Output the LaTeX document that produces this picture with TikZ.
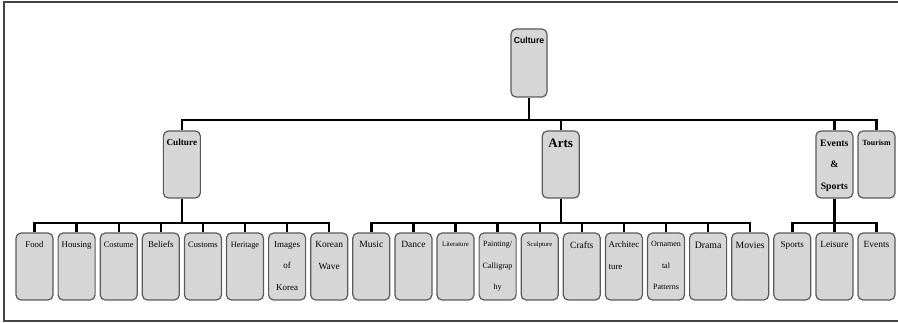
\documentclass[tikz,border=0pt]{standalone}
\usepackage{fontspec}
\setmainfont{Liberation Serif}
\newfontfamily\headsans{Liberation Sans}
\definecolor{boxfill}{HTML}{D6D6D6}
\definecolor{boxline}{HTML}{5A5A5A}
\definecolor{framecol}{HTML}{444444}
\newcommand\mkbox[6]{%
  \node[box] (#1) at (#2,#3) {};
  \node[lbl, font=\fontsize{#4}{21.5}\selectfont#5] (#1t) at ([yshift=-9pt]#1.north) {#6};
}
\begin{document}
\begin{tikzpicture}[x=1pt,y=-1pt,
  box/.style={draw=boxline, fill=boxfill, line width=1.2pt, rounded corners=5pt,
    minimum width=37pt, minimum height=67pt, inner sep=0pt},
  lbl/.style={anchor=north, inner sep=0pt, align=center},
  conn/.style={line width=2.4pt, black, line join=miter},
  frameline/.style={draw=framecol, line width=1.3pt}]
\useasboundingbox (0,0) rectangle (898,323);
\draw[frameline] (4,2) rectangle (902,321);
% top
\node[box, minimum width=36pt, minimum height=68pt] (top) at (529,63) {};
\node[lbl, font=\headsans\bfseries\fontsize{8.7}{12}\selectfont] (topt) at ([yshift=-9pt]top.north) {Culture};
% level 2
\mkbox{cult}{181.85}{164.5}{9.2}{\bfseries}{Culture}
\node[box] (arts) at (560.75,164.5) {};
\node[lbl, font=\bfseries\fontsize{13}{16}\selectfont] (artst) at ([yshift=-8pt]arts.north) {Arts};
\mkbox{evsp}{834.4}{164.5}{9.8}{\bfseries}{Events\\\&\\Sports}
\mkbox{tour}{876.5}{164.5}{7.9}{\bfseries}{Tourism}
% level 3
\mkbox{food}{34.5}{266.5}{8.8}{}{Food}
\mkbox{hous}{76.6}{266.5}{8.8}{}{Housing}
\mkbox{cost}{118.7}{266.5}{8.4}{}{Costume}
\mkbox{beli}{160.8}{266.5}{9}{}{Beliefs}
\mkbox{cust}{202.9}{266.5}{8.4}{}{Customs}
\mkbox{heri}{245.0}{266.5}{8.2}{}{Heritage}
\mkbox{imag}{287.1}{266.5}{9}{}{Images\\of\\Korea}
\mkbox{kore}{329.2}{266.5}{9.4}{}{Korean\\Wave}
\mkbox{musi}{371.3}{266.5}{9.6}{}{Music}
\mkbox{danc}{413.4}{266.5}{9.5}{}{Dance}
\mkbox{lite}{455.5}{266.5}{6.8}{}{Literature}
\mkbox{pain}{497.6}{266.5}{8}{}{Painting/\\Calligrap\\hy}
\mkbox{scul}{539.7}{266.5}{6.6}{}{Sculpture}
\mkbox{craf}{581.8}{266.5}{9.5}{}{Crafts}
\node[box] (arch) at (623.9,266.5) {};
\node[lbl, align=left, font=\fontsize{8.9}{21.5}\selectfont] (archt) at ([yshift=-9pt]arch.north) {Architec\\ture};
\mkbox{orna}{666.0}{266.5}{8}{}{Ornamen\\tal\\Patterns}
\mkbox{dram}{708.1}{266.5}{9.8}{}{Drama}
\mkbox{movi}{750.2}{266.5}{9.7}{}{Movies}
\mkbox{spor}{792.3}{266.5}{9.1}{}{Sports}
\mkbox{leis}{834.4}{266.5}{9.4}{}{Leisure}
\mkbox{even}{876.5}{266.5}{9.4}{}{Events}
% buses
\coordinate (bus1) at (0,120);
\coordinate (bus2) at (0,223);
\draw[conn] (top.south) -- (top.south |- bus1);
\draw[conn] (cult.north) -- (cult.north |- bus1) -- (tour.north |- bus1) -- (tour.north);
\draw[conn] (arts.north) -- (arts.north |- bus1);
\draw[conn] (evsp.north) -- (evsp.north |- bus1);
% culture children
\draw[conn] (cult.south) -- (cult.south |- bus2);
\draw[conn] (food.north) -- (food.north |- bus2) -- (kore.north |- bus2) -- (kore.north);
\foreach \n in {hous,cost,beli,cust,heri,imag}{\draw[conn] (\n.north) -- (\n.north |- bus2);}
% arts children
\draw[conn] (arts.south) -- (arts.south |- bus2);
\draw[conn] (musi.north) -- (musi.north |- bus2) -- (movi.north |- bus2) -- (movi.north);
\foreach \n in {danc,lite,pain,scul,craf,arch,orna,dram}{\draw[conn] (\n.north) -- (\n.north |- bus2);}
% events children
\draw[conn] (evsp.south) -- (evsp.south |- bus2);
\draw[conn] (spor.north) -- (spor.north |- bus2) -- (even.north |- bus2) -- (even.north);
\draw[conn] (leis.north) -- (leis.north |- bus2);
\end{tikzpicture}
\end{document}
